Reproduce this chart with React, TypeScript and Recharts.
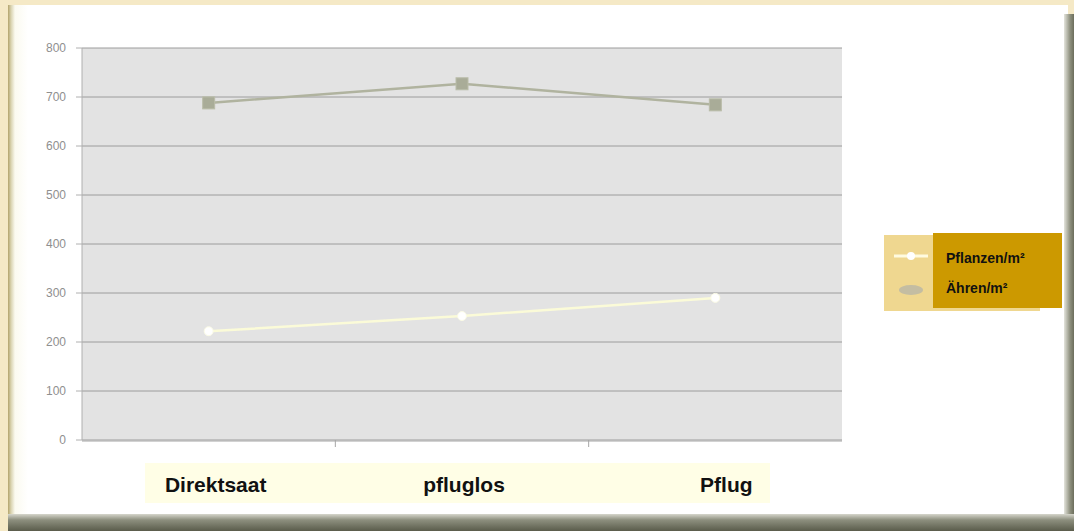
import React from "react";
import { LineChart, Line, XAxis, YAxis, CartesianGrid, Legend } from "recharts";

const categories = ["Direktsaat", "pfluglos", "Pflug"];
const pflanzen = [222, 253, 290];
const aehren = [688, 727, 684];
const yTicks = [0, 100, 200, 300, 400, 500, 600, 700, 800];
const boundaryTicks = [1, 2];
const labelOffsets = [7, 2, 11];

const data = categories.map((c, i) => ({
  cat: c,
  idx: i + 0.5,
  pflanzen: pflanzen[i],
  aehren: aehren[i],
}));

const FONT = "'Liberation Sans', Arial, sans-serif";

const XTick = (props: any) => {
  const { x, y, payload, index } = props;
  return (
    <text
      x={x + (labelOffsets[index] || 0)}
      y={y + 43}
      textAnchor="middle"
      fontFamily={FONT}
      fontWeight="bold"
      fontSize={21}
      fill="#111"
    >
      {payload.value}
    </text>
  );
};

const BoundaryTick = (props: any) => {
  const { x, y } = props;
  return <line x1={x} y1={y} x2={x} y2={y + 7} stroke="#a6a6a6" strokeWidth={1} />;
};

const SquareDot = (props: any) => {
  const { cx, cy } = props;
  if (cx == null || cy == null) return null;
  return <rect x={cx - 6} y={cy - 6} width={12} height={12} fill="#a9ac98" stroke="#babda9" strokeWidth={1} />;
};

const CircleDot = (props: any) => {
  const { cx, cy } = props;
  if (cx == null || cy == null) return null;
  return <circle cx={cx} cy={cy} r={4.5} fill="#ffffff" stroke="#fbfbe6" strokeWidth={1} />;
};

const LegendContent = () => (
  <div style={{ position: "relative", width: 178, height: 78 }}>
    <div
      style={{
        position: "absolute",
        left: 0,
        top: 2,
        width: 156,
        height: 76,
        background: "#ebcd74",
        opacity: 0.8,
      }}
    />
    <svg style={{ position: "absolute", left: 0, top: 0 }} width={60} height={78}>
      <line x1={10} y1={23} x2={44} y2={23} stroke="#fffbe0" strokeWidth={3} />
      <circle cx={27} cy={23} r={4} fill="#ffffff" />
      <ellipse cx={27} cy={57} rx={12} ry={5} fill="#b9b7a6" opacity={0.8} />
    </svg>
    <div
      style={{
        position: "absolute",
        left: 49,
        top: 0,
        width: 129,
        height: 75,
        background: "#cc9900",
        fontFamily: FONT,
        fontWeight: "bold",
        fontSize: 14,
        color: "#111",
      }}
    >
      <div style={{ position: "absolute", left: 13, top: 17 }}>Pflanzen/m²</div>
      <div style={{ position: "absolute", left: 13, top: 47 }}>Ähren/m²</div>
    </div>
  </div>
);

export default function App() {
  return (
    <div
      style={{
        position: "fixed",
        left: 0,
        top: 0,
        width: 1074,
        height: 531,
        background: "#f5e9c6",
        overflow: "hidden",
      }}
    >
      <div
        style={{
          position: "absolute",
          left: 8,
          top: 5,
          width: 1060,
          height: 515,
          background: "linear-gradient(90deg, #b3a46c 0px, #d9d3b0 3px, #fbfaf0 7px, #ffffff 20px)",
        }}
      />
      <div
        style={{
          position: "absolute",
          left: 1064,
          top: 14,
          width: 10,
          height: 517,
          background: "linear-gradient(90deg, #e4e4dc, #8f917f 60%, #6c6e5c)",
        }}
      />
      <div
        style={{
          position: "absolute",
          left: 8,
          top: 514,
          width: 1066,
          height: 17,
          background: "linear-gradient(180deg, #d6d6cc 0%, #8d8f7e 35%, #5a5c4b 100%)",
        }}
      />
      <div
        style={{
          position: "absolute",
          left: 145,
          top: 463,
          width: 625,
          height: 40,
          background: "#fffee6",
        }}
      />
      <div style={{ position: "absolute", left: 0, top: 0 }}>
        <LineChart
          width={1074}
          height={531}
          data={data}
          margin={{ top: 48, right: 54, left: 22, bottom: 31 }}
        >
          <CartesianGrid
            vertical={false}
            fill="#e3e3e3"
            stroke="#9c9c9c"
            strokeWidth={1}
            xAxisId="cat"
          />
          <XAxis
            xAxisId="bound"
            dataKey="idx"
            type="number"
            domain={[0, 3]}
            ticks={boundaryTicks}
            height={1}
            axisLine={false}
            tickLine={false}
            tick={<BoundaryTick />}
            tickSize={0}
            tickMargin={0}
            orientation="bottom"
          />
          <XAxis
            xAxisId="cat"
            dataKey="cat"
            type="category"
            scale="band"
            height={59}
            axisLine={{ stroke: "#a6a6a6" }}
            tickLine={false}
            tick={<XTick />}
            interval={0}
          />
          <YAxis
            domain={[0, 800]}
            ticks={yTicks}
            width={60}
            axisLine={{ stroke: "#b0b0b0" }}
            tickLine={{ stroke: "#b0b0b0" }}
            tickSize={6}
            tickMargin={10}
            tick={{ fontFamily: FONT, fontSize: 12, fill: "#8f8f8f" }}
          />
          <Legend
            layout="vertical"
            align="right"
            verticalAlign="middle"
            content={<LegendContent />}
            wrapperStyle={{ left: 884, top: 233, width: 178 }}
          />
          <Line
            xAxisId="cat"
            type="linear"
            dataKey="aehren"
            name="Ähren/m²"
            stroke="#b0b39f"
            strokeWidth={2.5}
            dot={<SquareDot />}
            isAnimationActive={false}
          />
          <Line
            xAxisId="cat"
            type="linear"
            dataKey="pflanzen"
            name="Pflanzen/m²"
            stroke="#fbfbd8"
            strokeWidth={2.5}
            dot={<CircleDot />}
            isAnimationActive={false}
          />
        </LineChart>
      </div>
    </div>
  );
}
